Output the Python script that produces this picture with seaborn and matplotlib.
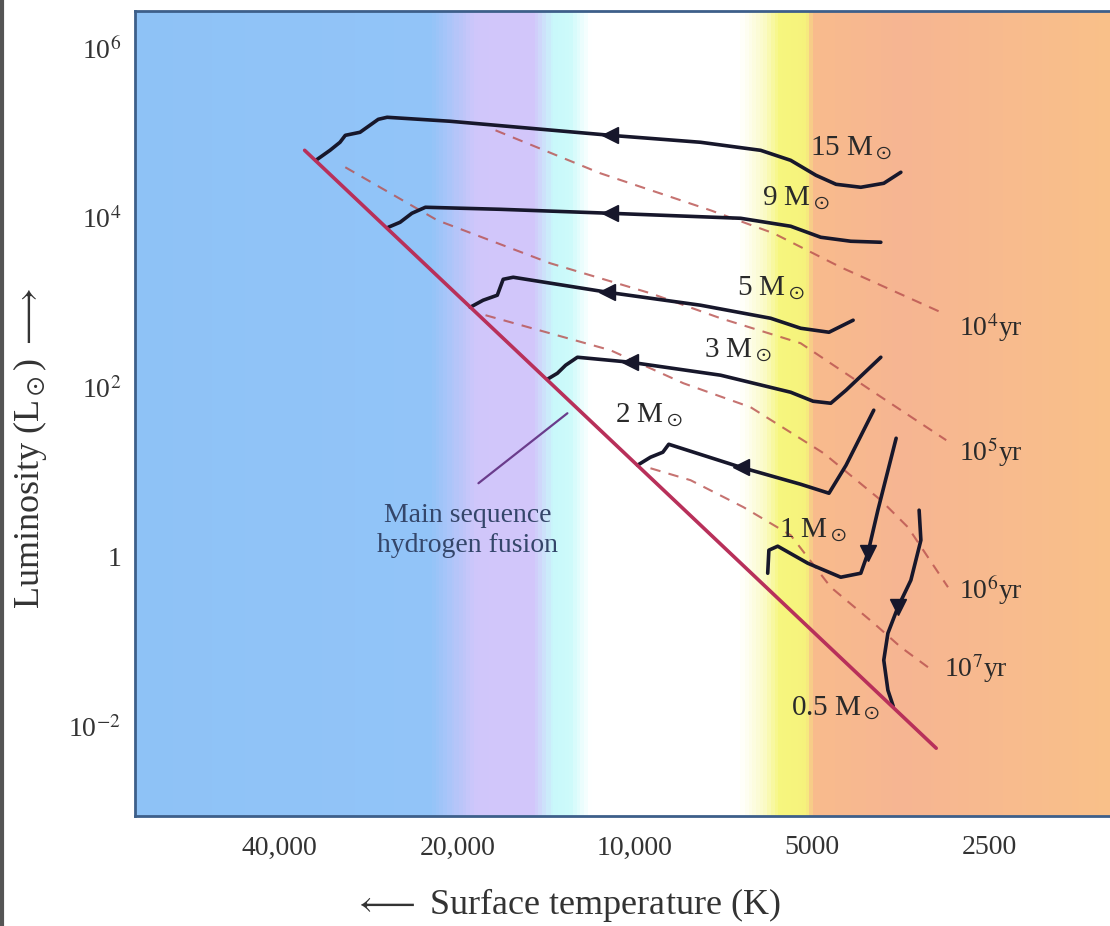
import numpy as np
import pandas as pd
import matplotlib
matplotlib.use("Agg")
import matplotlib.pyplot as plt
import seaborn as sns
from matplotlib.colors import LinearSegmentedColormap
from matplotlib.lines import Line2D

# ---------------- data (log10 units) ----------------

# zero-age main sequence line (end points)
ms_logT = [4.560, 3.488]
ms_logL = [4.796, -2.260]

# pre-main-sequence tracks
m15_logT = [4.541, 4.517, 4.500, 4.491, 4.466, 4.435, 4.420, 4.313, 4.041, 3.888, 3.786, 3.735, 3.692, 3.658, 3.616, 3.577, 3.548]
m15_logL = [4.678, 4.796, 4.891, 4.973, 5.009, 5.162, 5.186, 5.139, 4.973, 4.891, 4.796, 4.678, 4.501, 4.395, 4.360, 4.407, 4.537]

m9_logT = [4.418, 4.398, 4.378, 4.355, 4.228, 4.041, 3.820, 3.735, 3.684, 3.633, 3.582]
m9_logL = [3.888, 3.947, 4.053, 4.124, 4.100, 4.053, 3.994, 3.900, 3.770, 3.723, 3.711]

m5_logT = [4.279, 4.257, 4.233, 4.223, 4.206, 4.046, 3.888, 3.769, 3.718, 3.670, 3.629]
m5_logL = [2.944, 3.027, 3.086, 3.274, 3.298, 3.121, 2.968, 2.814, 2.696, 2.649, 2.791]

m3_logT = [4.148, 4.131, 4.117, 4.097, 4.007, 3.854, 3.735, 3.697, 3.667, 3.641, 3.582]
m3_logL = [2.094, 2.165, 2.260, 2.354, 2.295, 2.142, 1.941, 1.835, 1.811, 1.965, 2.354]

m2_logT = [3.995, 3.973, 3.952, 3.942, 3.820, 3.718, 3.670, 3.641, 3.594]
m2_logL = [1.080, 1.174, 1.233, 1.327, 1.056, 0.855, 0.749, 1.080, 1.729]

m1_logT = [3.774, 3.772, 3.757, 3.706, 3.650, 3.616, 3.604, 3.587, 3.556]
m1_logL = [-0.195, 0.077, 0.124, -0.077, -0.242, -0.195, 0.041, 0.549, 1.398]

m05_logT = [3.517, 3.514, 3.531, 3.553, 3.570, 3.577, 3.570, 3.561]
m05_logL = [0.549, 0.195, -0.277, -0.596, -0.903, -1.221, -1.575, -1.764]

track_names = ["15", "9", "5", "3", "2", "1", "0.5"]
track_logT = [m15_logT, m9_logT, m5_logT, m3_logT, m2_logT, m1_logT, m05_logT]
track_logL = [m15_logL, m9_logL, m5_logL, m3_logL, m2_logL, m1_logL, m05_logL]
# which point of each track carries the direction arrow
arrow_idx = [8, 5, 5, 4, 4, 6, 3]
arrow_mark = ["<", "<", "<", "<", "<", "v", "v"]

# isochrones (dashed)
iso4_logT = [4.236, 4.058, 3.871, 3.764, 3.650, 3.480]
iso4_logL = [5.032, 4.525, 4.088, 3.817, 3.416, 2.885]
iso5_logT = [4.491, 4.335, 4.143, 3.973, 3.854, 3.718, 3.599, 3.471]
iso5_logL = [4.596, 3.971, 3.463, 3.109, 2.814, 2.519, 1.965, 1.375]
iso6_logT = [4.253, 4.041, 3.917, 3.803, 3.679, 3.582, 3.536, 3.468]
iso6_logL = [2.850, 2.437, 2.047, 1.764, 1.221, 0.667, 0.348, -0.360]
iso7_logT = [3.973, 3.905, 3.815, 3.735, 3.667, 3.594, 3.548, 3.502]
iso7_logL = [1.044, 0.903, 0.584, 0.254, -0.360, -0.785, -1.068, -1.304]

iso_names = ["1e4", "1e5", "1e6", "1e7"]
iso_logT = [iso4_logT, iso5_logT, iso6_logT, iso7_logT]
iso_logL = [iso4_logL, iso5_logL, iso6_logL, iso7_logL]

# background colour bands (temperature K, colour)
band_T = [1560, 3500, 4960, 5100, 5650, 5990, 6610, 11880, 12860, 13750, 14850, 18600, 22200, 70500]
band_col = ["#f9c089", "#f6b592", "#f8bb8c", "#f6f27c", "#f6f67e", "#fafac4", "#ffffff", "#ffffff",
            "#cdfafa", "#c8f8fa", "#d2c6fa", "#d0c6fa", "#92c4f8", "#8ec2f6"]

xtick_T = [40000, 20000, 10000, 5000, 2500]
xtick_lab = ["40,000", "20,000", "10,000", "5000", "2500"]
ytick_logL = [6, 4, 2, 0, -2]
ytick_lab = ["10$^6$", "10$^4$", "10$^2$", "1", "10$^{-2}$"]

# ---------------- plotting ----------------
sns.set_style("white")
plt.rcParams["font.family"] = ["Liberation Serif", "DejaVu Serif"]
plt.rcParams["mathtext.fontset"] = "stix"

x_lo, x_hi = 4.848, 3.193
y_lo, y_hi = -3.06, 6.44

fig = plt.figure(figsize=(11.1, 9.26), dpi=100)
ax = fig.add_axes([0.1216, 0.1188, 0.8784, 0.8693])

# colour gradient behind the plot
lt = np.log10(band_T)
pos = (lt - lt[0]) / (lt[-1] - lt[0])
cmap = LinearSegmentedColormap.from_list("bands", list(zip(pos, band_col)))
xe = np.linspace(x_hi, x_lo, 700)
xc = (xe[:-1] + xe[1:]) / 2
ax.pcolormesh(xe, [y_lo, y_hi], xc[None, :], cmap=cmap, vmin=lt[0], vmax=lt[-1],
              shading="flat", zorder=0)

# tracks
track_df = pd.concat([pd.DataFrame({"logT": t, "logL": l, "mass": n})
                      for n, t, l in zip(track_names, track_logT, track_logL)])
sns.lineplot(data=track_df, x="logT", y="logL", units="mass", estimator=None, sort=False,
             color="#17172b", lw=2.6, solid_joinstyle="round", solid_capstyle="round",
             ax=ax, zorder=4)

for t, l, i, m in zip(track_logT, track_logL, arrow_idx, arrow_mark):
    ax.plot(t[i], l[i], marker=m, ms=11, color="#17172b", zorder=5)

# isochrones
iso_df = pd.concat([pd.DataFrame({"logT": t, "logL": l, "age": n})
                    for n, t, l in zip(iso_names, iso_logT, iso_logL)])
sns.lineplot(data=iso_df, x="logT", y="logL", units="age", estimator=None, sort=False,
             color="#b8504e", lw=1.5, ls=(0, (5, 4)), alpha=0.8, ax=ax, zorder=3)

# main sequence
sns.lineplot(x=ms_logT, y=ms_logL, color="#b8305a", lw=2.6, ax=ax, zorder=4)

# labels
lab_kw = dict(fontsize=21, color="#2a2a2a", ha="center", va="center", zorder=6)
ax.text(3.633, 4.820, r"15 M$_\odot$", **lab_kw)
ax.text(3.726, 4.230, r"9 M$_\odot$", **lab_kw)
ax.text(3.769, 3.168, r"5 M$_\odot$", **lab_kw)
ax.text(3.825, 2.437, r"3 M$_\odot$", **lab_kw)
ax.text(3.976, 1.670, r"2 M$_\odot$", **lab_kw)
ax.text(3.697, 0.313, r"1 M$_\odot$", **lab_kw)
ax.text(3.658, -1.788, r"0.5 M$_\odot$", **lab_kw)

yr_kw = dict(fontsize=20, color="#2a2a2a", ha="center", va="center", zorder=6)
ax.text(3.395, 2.708, r"10$^4$yr", **yr_kw)
ax.text(3.395, 1.233, r"10$^5$yr", **yr_kw)
ax.text(3.395, -0.395, r"10$^6$yr", **yr_kw)
ax.text(3.420, -1.316, r"10$^7$yr", **yr_kw)

ax.plot([4.114, 4.265], [1.693, 0.867], color="#6a3c8c", lw=1.6, zorder=4)
ax.text(4.284, 0.313, "Main sequence\nhydrogen fusion", fontsize=20, color="#34466a",
        ha="center", va="center", linespacing=1.25, zorder=6)

# axes styling
ax.set_xlim(x_lo, x_hi)
ax.set_ylim(y_lo, y_hi)
ax.set_xticks(np.log10(xtick_T))
ax.set_xticklabels(xtick_lab)
ax.set_yticks(ytick_logL)
ax.set_yticklabels(ytick_lab)
ax.tick_params(direction="in", length=13, width=1.6, color="#3d5f8a",
               labelsize=20, labelcolor="#333333")
ax.tick_params(axis="x", pad=14)
ax.tick_params(axis="y", pad=10)
ax.set_xlabel("")
ax.set_ylabel("")
for s in ["top", "left", "bottom"]:
    ax.spines[s].set_color("#3d5f8a")
    ax.spines[s].set_linewidth(2)
ax.spines["right"].set_visible(False)

fig.text(30 / 1110, 1 - 448 / 926, r"Luminosity (L$_\odot$) $\longrightarrow$", rotation=90,
         ha="center", va="center", fontsize=26, color="#333333")
fig.text(567 / 1110, 1 - 905 / 926, r"$\longleftarrow$ Surface temperature (K)",
         ha="center", va="center", fontsize=26, color="#333333")

fig.add_artist(Line2D([0.0015, 0.0015], [0, 1], color="#555555", lw=3, transform=fig.transFigure))

fig.savefig("out.png", dpi=100)
